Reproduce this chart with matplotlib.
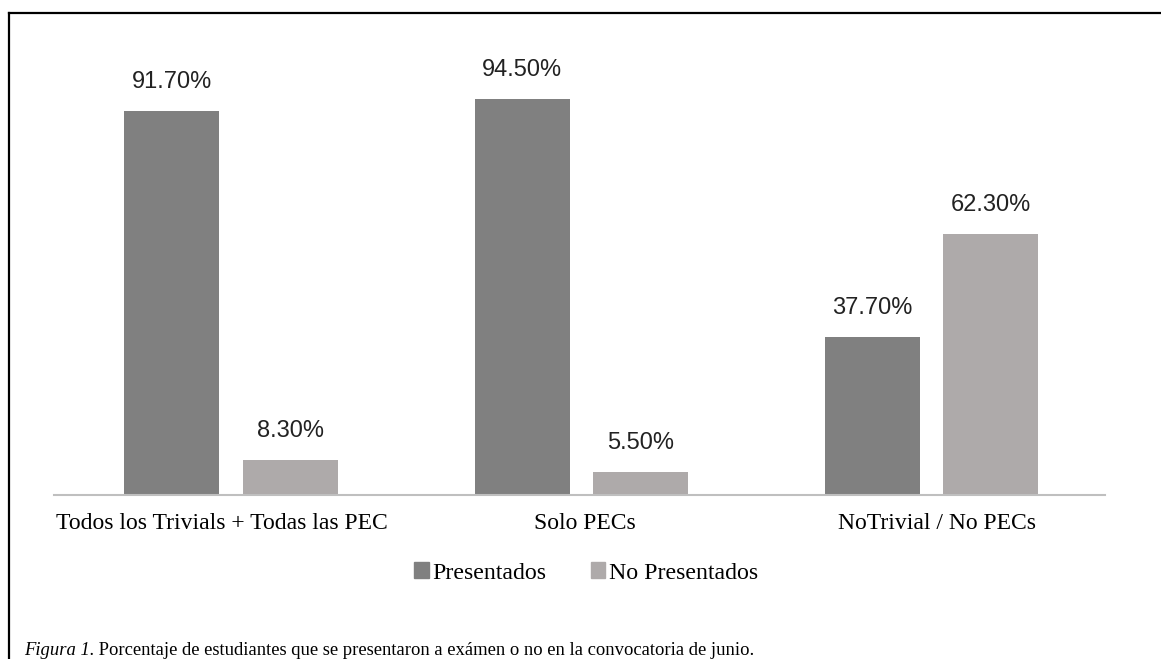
import matplotlib
matplotlib.use("Agg")
import matplotlib.pyplot as plt
import numpy as np
from matplotlib.lines import Line2D
from matplotlib.patches import Patch

categories = ["Todos los Trivials + Todas las PEC", "Solo PECs", "NoTrivial / No PECs"]
presentados = [91.7, 94.5, 37.7]
no_presentados = [8.3, 5.5, 62.3]
series_names = ["Presentados", "No Presentados"]
colors = ["#808080", "#AEAAAA"]
caption_italic = "Figura 1."
caption_rest = " Porcentaje de estudiantes que se presentaron a exámen o no en la convocatoria de junio."

W, H = 1161, 659
fig = plt.figure(figsize=(W / 100, H / 100), dpi=100)
# axes: baseline at y=495 px, left 54, right 1105, top at 495-419=76 (ylim 0..100)
ax = fig.add_axes([54 / W, 1 - 495 / H, (1105 - 54) / W, 419 / H])

x = np.arange(len(categories))
bw = 0.271
off = 0.169
b1 = ax.bar(x - off + 0.005, presentados, bw, color=colors[0], label=series_names[0])
b2 = ax.bar(x + off + 0.005, no_presentados, bw, color=colors[1], label=series_names[1])
for bars, vals in ((b1, presentados), (b2, no_presentados)):
    for r, v in zip(bars, vals):
        ax.annotate(f"{v:.2f}%", (r.get_x() + r.get_width() / 2, v), xytext=(0, 13),
                    textcoords="offset points", ha="center", va="bottom",
                    fontsize=17, family="Liberation Sans", color="#222222")

ax.set_xlim(-0.5, 2.5)
ax.set_ylim(0, 100)
ax.set_yticks([])
ax.set_xticks(x + np.array([-0.02, 0.015, 0.02]))
ax.set_xticklabels(categories, fontsize=17, family="Liberation Serif")
ax.tick_params(axis="x", length=0, pad=13)
for s in ["top", "right", "left"]:
    ax.spines[s].set_visible(False)
ax.spines["bottom"].set_color("#BFBFBF")
ax.spines["bottom"].set_linewidth(1.5)

handles = [Patch(color=c, label=n) for c, n in zip(colors, series_names)]
fig.legend(handles=handles, loc="center", bbox_to_anchor=(586 / W, 1 - 573 / H), ncol=2,
           frameon=False, prop={"family": "Liberation Serif", "size": 17.2},
           handlelength=0.62, handleheight=0.62, handletextpad=0.15, columnspacing=1.85)

# frame lines
fig.add_artist(Line2D([9 / W, 9 / W], [0, 1 - 13 / H], color="black", lw=1.6,
                      transform=fig.transFigure))
fig.add_artist(Line2D([9 / W, 1], [1 - 13 / H, 1 - 13 / H], color="black", lw=1.6,
                      transform=fig.transFigure))

t1 = fig.text(24 / W, 1 - 655 / H, caption_italic, fontsize=13.4, family="Liberation Serif",
              style="italic", va="baseline", ha="left")
fig.canvas.draw()
bb = t1.get_window_extent()
fig.text(bb.x1 / W, 1 - 655 / H, caption_rest, fontsize=13.4, family="Liberation Serif",
         va="baseline", ha="left")

fig.savefig("out.png", dpi=100)
